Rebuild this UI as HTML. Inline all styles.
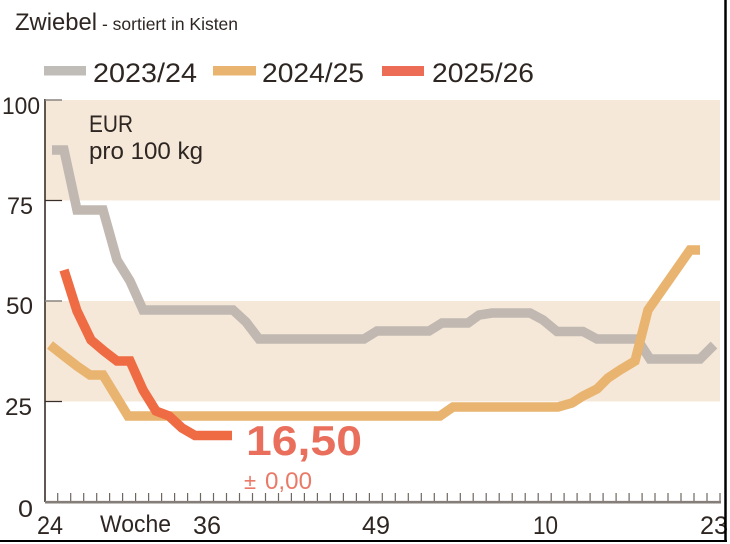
<!DOCTYPE html>
<html><head><meta charset="utf-8"><style>
html,body{margin:0;padding:0;background:#fff;}
svg{display:block;}
text{font-family:"Liberation Sans",sans-serif;}
</style></head><body>
<svg width="730" height="544" viewBox="0 0 730 544" xmlns="http://www.w3.org/2000/svg">
<rect x="0" y="0" width="730" height="544" fill="#fff"/>
<!-- bands -->
<rect x="45" y="100" width="675" height="100.5" fill="#f5e8d8"/>
<rect x="45" y="301" width="675" height="100.5" fill="#f5e8d8"/>
<!-- title -->
<text x="15" y="30" font-size="24" fill="#2e2622" textLength="82" lengthAdjust="spacingAndGlyphs">Zwiebel</text>
<text x="102" y="30" font-size="17.5" fill="#2e2622" textLength="136" lengthAdjust="spacingAndGlyphs">- sortiert in Kisten</text>
<!-- legend -->
<rect x="44" y="66" width="42" height="9.5" fill="#c0bcb8"/>
<text x="93" y="82" font-size="27" fill="#2e2622" textLength="104" lengthAdjust="spacingAndGlyphs">2023/24</text>
<rect x="213" y="66" width="43" height="9.5" fill="#e9b46f"/>
<text x="262" y="82" font-size="27" fill="#2e2622" textLength="102" lengthAdjust="spacingAndGlyphs">2024/25</text>
<rect x="382" y="66" width="42" height="10" fill="#ec6c55"/>
<text x="432" y="82" font-size="27" fill="#2e2622" textLength="102" lengthAdjust="spacingAndGlyphs">2025/26</text>
<!-- EUR label -->
<text x="89" y="132" font-size="24" fill="#2e2622" textLength="44" lengthAdjust="spacingAndGlyphs">EUR</text>
<text x="89" y="159" font-size="24" fill="#2e2622" textLength="114" lengthAdjust="spacingAndGlyphs">pro 100 kg</text>
<!-- y axis -->
<line x1="45" y1="99" x2="45" y2="502" stroke="#3a2e28" stroke-width="1.6"/>
<line x1="45" y1="100" x2="62" y2="100" stroke="#8a8580" stroke-width="1.5"/>
<line x1="45" y1="200.5" x2="62" y2="200.5" stroke="#3a2e28" stroke-width="1.3"/>
<line x1="45" y1="301" x2="62" y2="301" stroke="#8a8580" stroke-width="1.5"/>
<line x1="45" y1="401.5" x2="62" y2="401.5" stroke="#3a2e28" stroke-width="1.3"/>
<text x="2" y="114" font-size="24" fill="#2e2622" textLength="38" lengthAdjust="spacingAndGlyphs">100</text>
<text x="7" y="214" font-size="24" fill="#2e2622" textLength="26" lengthAdjust="spacingAndGlyphs">75</text>
<text x="6" y="314" font-size="24" fill="#2e2622" textLength="27" lengthAdjust="spacingAndGlyphs">50</text>
<text x="5" y="415" font-size="24" fill="#2e2622" textLength="27" lengthAdjust="spacingAndGlyphs">25</text>
<text x="18" y="517" font-size="24" fill="#2e2622" textLength="15" lengthAdjust="spacingAndGlyphs">0</text>
<!-- x axis -->
<g stroke="#6e6660" stroke-width="1.2">
<line x1="57.7" y1="493" x2="57.7" y2="501"/><line x1="70.7" y1="493" x2="70.7" y2="501"/><line x1="83.7" y1="493" x2="83.7" y2="501"/><line x1="96.7" y1="493" x2="96.7" y2="501"/><line x1="109.6" y1="493" x2="109.6" y2="501"/><line x1="122.6" y1="493" x2="122.6" y2="501"/><line x1="135.6" y1="493" x2="135.6" y2="501"/><line x1="148.6" y1="493" x2="148.6" y2="501"/><line x1="161.6" y1="493" x2="161.6" y2="501"/><line x1="174.6" y1="493" x2="174.6" y2="501"/><line x1="187.6" y1="493" x2="187.6" y2="501"/><line x1="200.5" y1="493" x2="200.5" y2="501"/><line x1="213.5" y1="493" x2="213.5" y2="501"/><line x1="226.5" y1="493" x2="226.5" y2="501"/><line x1="239.5" y1="493" x2="239.5" y2="501"/><line x1="252.5" y1="493" x2="252.5" y2="501"/><line x1="265.5" y1="493" x2="265.5" y2="501"/><line x1="278.5" y1="493" x2="278.5" y2="501"/><line x1="291.4" y1="493" x2="291.4" y2="501"/><line x1="304.4" y1="493" x2="304.4" y2="501"/><line x1="317.4" y1="493" x2="317.4" y2="501"/><line x1="330.4" y1="493" x2="330.4" y2="501"/><line x1="343.4" y1="493" x2="343.4" y2="501"/><line x1="356.4" y1="493" x2="356.4" y2="501"/><line x1="369.4" y1="493" x2="369.4" y2="501"/><line x1="382.3" y1="493" x2="382.3" y2="501"/><line x1="395.3" y1="493" x2="395.3" y2="501"/><line x1="408.3" y1="493" x2="408.3" y2="501"/><line x1="421.3" y1="493" x2="421.3" y2="501"/><line x1="434.3" y1="493" x2="434.3" y2="501"/><line x1="447.3" y1="493" x2="447.3" y2="501"/><line x1="460.3" y1="493" x2="460.3" y2="501"/><line x1="473.2" y1="493" x2="473.2" y2="501"/><line x1="486.2" y1="493" x2="486.2" y2="501"/><line x1="499.2" y1="493" x2="499.2" y2="501"/><line x1="512.2" y1="493" x2="512.2" y2="501"/><line x1="525.2" y1="493" x2="525.2" y2="501"/><line x1="538.2" y1="493" x2="538.2" y2="501"/><line x1="551.2" y1="493" x2="551.2" y2="501"/><line x1="564.1" y1="493" x2="564.1" y2="501"/><line x1="577.1" y1="493" x2="577.1" y2="501"/><line x1="590.1" y1="493" x2="590.1" y2="501"/><line x1="603.1" y1="493" x2="603.1" y2="501"/><line x1="616.1" y1="493" x2="616.1" y2="501"/><line x1="629.1" y1="493" x2="629.1" y2="501"/><line x1="642.1" y1="493" x2="642.1" y2="501"/><line x1="655.0" y1="493" x2="655.0" y2="501"/><line x1="668.0" y1="493" x2="668.0" y2="501"/><line x1="681.0" y1="493" x2="681.0" y2="501"/><line x1="694.0" y1="493" x2="694.0" y2="501"/><line x1="707.0" y1="493" x2="707.0" y2="501"/><line x1="720.0" y1="493" x2="720.0" y2="501"/>
</g>
<line x1="45" y1="502.2" x2="721" y2="502.2" stroke="#857d77" stroke-width="2.6"/>
<text x="37" y="534" font-size="25" fill="#2e2622" textLength="26" lengthAdjust="spacingAndGlyphs">24</text>
<text x="100" y="532" font-size="24" fill="#2e2622" textLength="71" lengthAdjust="spacingAndGlyphs">Woche</text>
<text x="193" y="534" font-size="25" fill="#2e2622" textLength="28" lengthAdjust="spacingAndGlyphs">36</text>
<text x="362" y="534" font-size="25" fill="#2e2622" textLength="28" lengthAdjust="spacingAndGlyphs">49</text>
<text x="533" y="534" font-size="25" fill="#2e2622" textLength="25" lengthAdjust="spacingAndGlyphs">10</text>
<text x="700" y="534" font-size="25" fill="#2e2622" textLength="28" lengthAdjust="spacingAndGlyphs">23</text>
<!-- series -->
<polyline fill="none" stroke="#c0b8b1" stroke-width="9.5" stroke-linejoin="miter" stroke-miterlimit="2" points="52,150 64,150 77,210 103,210 117,260 130,281 143,310 233,310 246,322 259,339 364,339 377,331 429,331 442,323 468,323 479,315 492,313 530,313 543,320 557,331.5 583,331.5 597,339 637,339 650,359 700,359 714,345"/>
<polyline fill="none" stroke="#e9b46f" stroke-width="9.5" stroke-linejoin="miter" stroke-miterlimit="2" points="50,345 64,356 77,366 90,375 103,375 128,416 440,416 453,407 558,407 572,403 583,396 597,389 608,378 620,370 635,361 648,310 690,250 700,250"/>
<polyline fill="none" stroke="#ee6b43" stroke-width="9.5" stroke-linejoin="miter" stroke-miterlimit="2" points="64,270 77,311 91,340 104,351 117,361 130,361 143,390 156,411 169,416 182,428 195,435.5 232,435.5"/>
<!-- value labels -->
<text x="246" y="455" font-size="42" font-weight="bold" fill="#e96f5c" textLength="116" lengthAdjust="spacingAndGlyphs">16,50</text>
<text x="244" y="489" font-size="22" fill="#ea7a68">±</text>
<text x="265" y="489" font-size="24" fill="#ea7a68" textLength="47" lengthAdjust="spacingAndGlyphs">0,00</text>
<!-- frame -->
<line x1="725.5" y1="0" x2="725.5" y2="542" stroke="#000" stroke-width="2.5"/>
<line x1="0" y1="541" x2="727" y2="541" stroke="#000" stroke-width="2"/>
</svg>
</body></html>
